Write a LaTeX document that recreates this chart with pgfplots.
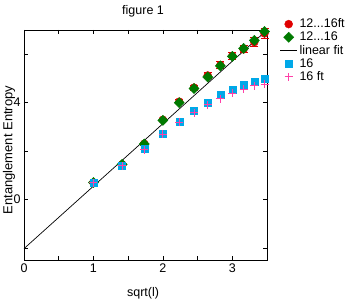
\documentclass[border=0pt]{standalone}
\usepackage{pgfplots}
\pgfplotsset{compat=1.18}
\usepackage{fontspec}
\setmainfont{Liberation Sans}
\definecolor{cred}{HTML}{E00000}
\definecolor{cgreen}{HTML}{007A00}
\definecolor{ccyan}{HTML}{00A8E8}
\definecolor{cpink}{HTML}{FF40A8}
\begin{document}
\begin{tikzpicture}
\path[use as bounding box] (-24bp,-40bp) rectangle (330bp,260bp);
\begin{axis}[
  scale only axis,
  width=243bp, height=230bp,
  xmin=0, xmax=3.5, ymin=-2.5, ymax=7,
  xtick={0,1,2,3}, minor xtick={0.5,1.5,2.5},
  ytick={0,4}, minor ytick={-2,2,6},
  tick align=inside,
  major tick length=4bp, minor tick length=4bp,
  tick style={black, line width=0.6bp},
  axis line style={line width=0.8bp},
  font=\fontsize{12.5bp}{14bp}\selectfont,
  /pgf/number format/assume math mode=true,
  title={figure 1},
  title style={at={(axis description cs:0.49,1.043)}, anchor=base},
  xlabel={sqrt(l)},
  xlabel style={at={(axis description cs:0.49,-0.145)}, anchor=center},
  ylabel={Entanglement Entropy},
  ylabel style={at={(axis description cs:-0.062,0.478)}, anchor=center, font=\fontsize{13bp}{14bp}\selectfont},
  legend style={draw=none, fill=none, at={(axis description cs:1.052,1.058)}, anchor=north west,
    font=\fontsize{12.5bp}{13bp}\selectfont, row sep=-1.2bp, inner sep=0pt,
    /tikz/every even column/.append style={column sep=5bp}},
  legend cell align=left,
  clip=false,
]
% 12...16ft
\addplot[only marks, mark=*, mark size=4bp, color=cred,
  error bars/.cd, y dir=both, y explicit, error bar style={line width=1bp, color=cred},
  error mark options={rotate=90, mark size=4bp, line width=1bp, color=cred}]
  coordinates {
  (1,0.70) +- (0,0.0)
  (1.414,1.45) +- (0,0.02)
  (1.732,2.30) +- (0,0.05)
  (2,3.29) +- (0,0.06)
  (2.236,4.04) +- (0,0.08)
  (2.449,4.62) +- (0,0.10)
  (2.646,5.12) +- (0,0.12)
  (2.828,5.55) +- (0,0.13)
  (3,5.93) +- (0,0.14)
  (3.162,6.20) +- (0,0.15)
  (3.317,6.50) +- (0,0.17)
  (3.464,6.86) +- (0,0.20)
  };
\addlegendentry{12...16ft}
% 12...16
\addplot[only marks, mark=square*, mark size=3.6bp, mark options={rotate=45}, color=cgreen]
  coordinates {
  (1,0.70) (1.414,1.45) (1.732,2.29) (2,3.27) (2.236,4.0) (2.449,4.58)
  (2.646,5.06) (2.828,5.52) (3,5.91) (3.162,6.24) (3.317,6.57) (3.464,6.94)
  };
\addlegendentry{12...16}
% linear fit
\addplot[black, line width=0.7bp, no marks] coordinates {(0,-2.03) (3.5,7.0)};
\addlegendentry{linear fit}
% 16
\addplot[only marks, mark=square*, mark size=3.5bp, color=ccyan]
  coordinates {
  (1,0.70) (1.414,1.39) (1.732,2.10) (2,2.70) (2.236,3.21) (2.449,3.66)
  (2.646,4.0) (2.828,4.32) (3,4.55) (3.162,4.75) (3.317,4.87) (3.464,4.99)
  };
\addlegendentry{16}
% 16 ft
\addplot[only marks, mark=+, mark size=4bp, line width=1bp, color=cpink]
  coordinates {
  (1,0.70) (1.414,1.39) (1.732,2.05) (2,2.69) (2.236,3.19) (2.449,3.59)
  (2.646,3.92) (2.828,4.17) (3,4.39) (3.162,4.55) (3.317,4.69) (3.464,4.76)
  };
\addlegendentry{16 ft}
\end{axis}
\end{tikzpicture}
\end{document}
